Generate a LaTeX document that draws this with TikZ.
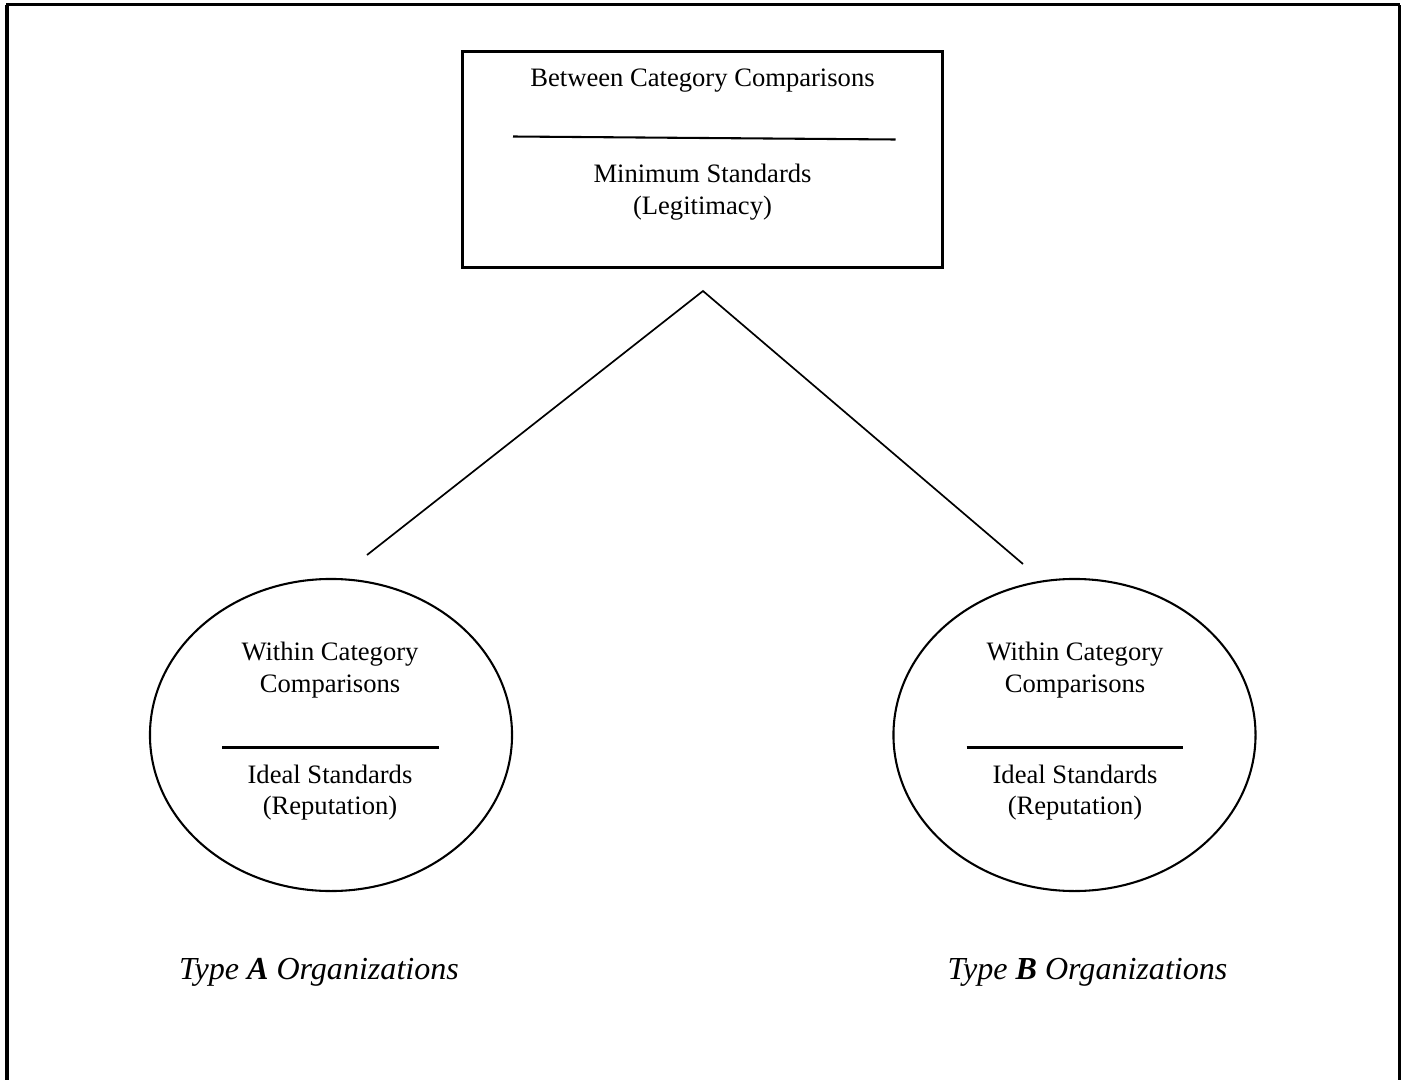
\documentclass[tikz,border=0pt]{standalone}
\usepackage{fontspec}
\setmainfont{Liberation Serif}
\usetikzlibrary{shapes.geometric}
\begin{document}
\begin{tikzpicture}[x=0.53pt,y=-0.53pt,
  txt/.style={anchor=base, inner sep=0pt, font=\fontsize{14.1}{16}\selectfont},
  lbl/.style={anchor=base, inner sep=0pt, font=\fontsize{17}{20}\selectfont\itshape},
  boxnode/.style={draw, line width=1.1pt, minimum width=254.4pt, minimum height=114.5pt, inner sep=0pt},
  ovalnode/.style={draw, ellipse, line width=1.1pt, minimum width=191.9pt, minimum height=165.4pt, inner sep=0pt},
  rule/.style={line width=1.1pt},
  link/.style={line width=0.9pt}]
\useasboundingbox (0,0) rectangle (1405,1080);
% outer frame
\draw[line width=1.6pt] (7,1090) -- (7,4.5);
\draw[line width=1.6pt] (1399,1090) -- (1399,4.5);
\draw[line width=1.1pt] (6,4.5) -- (1400,4.5);
% top box
\node[boxnode] (top) at (702.5,159.5) {};
\node[txt] (t1) at (702.5,86) {Between Category Comparisons};
\draw[rule] (513,136.5) -- (895.5,139.5);
\node[txt] (t2) at (702.5,182.7) {Minimum Standards};
\node[txt] (t3) at (702.5,214) {(Legitimacy)};
% connectors
\coordinate (apex) at (703,291);
\coordinate (lend) at (367,555);
\coordinate (rend) at (1023,564);
\draw[link] (lend) -- (apex) -- (rend);
% left ellipse
\node[ovalnode] (L) at (331,735) {};
\node[txt] (l1) at (330,660) {Within Category};
\node[txt] (l2) at (330,692) {Comparisons};
\draw[rule] (222,747.5) -- (439,747.5);
\node[txt] (l3) at (330,783) {Ideal Standards};
\node[txt] (l4) at (330,814) {(Reputation)};
% right ellipse
\node[ovalnode] (R) at (1074.5,735) {};
\node[txt] (r1) at (1075,660) {Within Category};
\node[txt] (r2) at (1075,692) {Comparisons};
\draw[rule] (966.5,747.5) -- (1183,747.5);
\node[txt] (r3) at (1075,783) {Ideal Standards};
\node[txt] (r4) at (1075,814) {(Reputation)};
% labels
\node[lbl] (la) at (319,979) {Type \textbf{A} Organizations};
\node[lbl] (lb) at (1087.5,979) {Type \textbf{B} Organizations};
\end{tikzpicture}
\end{document}
